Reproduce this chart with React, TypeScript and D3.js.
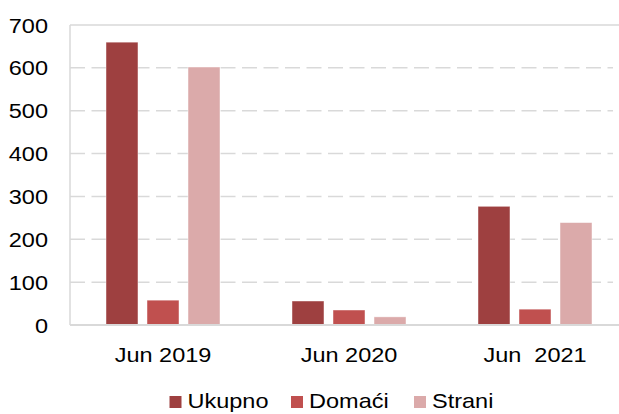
import { useEffect, useRef } from 'react';
import * as d3 from 'd3';

const categories = ['Jun 2019', 'Jun 2020', 'Jun  2021'];
const seriesNames = ['Ukupno', 'Domaći', 'Strani'];
const ukupno = [660, 56, 277];
const domaci = [58, 35, 37];
const strani = [602, 19, 239];
const yTicks = [0, 100, 200, 300, 400, 500, 600, 700];

const colors = ['#9E4040', '#C0504F', '#DBAAAA'];
const FONT = '"Liberation Sans", Arial, sans-serif';
const STRETCH = 1.12;

export default function App() {
  const svgRef = useRef<SVGSVGElement>(null);

  useEffect(() => {
    if (!svgRef.current) return;
    const width = 619;
    const height = 414;
    const margin = { top: 25, left: 70, bottom: 89 };
    const plotRight = 628;

    const svg = d3.select(svgRef.current);
    svg.selectAll('*').remove();

    const y = d3.scaleLinear().domain([0, 700]).range([height - margin.bottom, margin.top]);
    const x0 = d3.scaleBand().domain(categories).range([margin.left, plotRight]);
    const half = 57;
    const x1 = d3.scaleBand()
      .domain(seriesNames)
      .range([x0.bandwidth() / 2 - half, x0.bandwidth() / 2 + half])
      .paddingInner(0.22);

    const values = [ukupno, domaci, strani];

    // Gridlines (dashed), top one solid
    svg.append('g')
      .selectAll('line')
      .data(yTicks.filter((t) => t > 0 && t < 700))
      .join('line')
      .attr('x1', margin.left)
      .attr('x2', 613)
      .attr('y1', (d) => y(d))
      .attr('y2', (d) => y(d))
      .attr('stroke', '#D9D9D9')
      .attr('stroke-width', 1.5)
      .attr('stroke-dasharray', '15,6.5');

    svg.append('line')
      .attr('x1', margin.left).attr('x2', width)
      .attr('y1', y(700)).attr('y2', y(700))
      .attr('stroke', '#D9D9D9').attr('stroke-width', 1.5);

    svg.append('line')
      .attr('x1', margin.left).attr('x2', margin.left)
      .attr('y1', y(700)).attr('y2', y(0))
      .attr('stroke', '#D9D9D9').attr('stroke-width', 1.5);

    // Bars
    seriesNames.forEach((s, si) => {
      svg.append('g')
        .selectAll('rect')
        .data(categories)
        .join('rect')
        .attr('x', (c) => x0(c)! + x1(s)!)
        .attr('width', x1.bandwidth())
        .attr('y', (_c, i) => y(values[si][i]))
        .attr('height', (_c, i) => y(0) - y(values[si][i]))
        .attr('fill', colors[si])
        .attr('stroke', '#ffffff')
        .attr('stroke-opacity', 0.6)
        .attr('stroke-width', 0.75);
    });

    // Baseline
    svg.append('line')
      .attr('x1', margin.left).attr('x2', width)
      .attr('y1', y(0)).attr('y2', y(0))
      .attr('stroke', '#D9D9D9').attr('stroke-width', 2);

    // Y labels
    svg.append('g')
      .selectAll('text')
      .data(yTicks)
      .join('text')
      .attr('transform', (d) => `translate(48,${y(d) + 7.5}) scale(${STRETCH},1)`)
      .attr('text-anchor', 'end')
      .attr('font-family', FONT)
      .attr('font-size', 21)
      .attr('fill', '#000')
      .text((d) => d);

    // X labels
    svg.append('g')
      .selectAll('text')
      .data(categories)
      .join('text')
      .attr('transform', (c) => `translate(${x0(c)! + x0.bandwidth() / 2},361.5) scale(${STRETCH},1)`)
      .attr('text-anchor', 'middle')
      .attr('font-family', FONT)
      .attr('font-size', 21)
      .attr('fill', '#000')
      .style('white-space', 'pre')
      .text((c) => c);

    // Legend
    const legendX = [169.5, 291, 414];
    const lg = svg.append('g')
      .selectAll('g')
      .data(seriesNames)
      .join('g')
      .attr('transform', (_d, i) => `translate(${legendX[i]},0)`);
    lg.append('rect')
      .attr('x', 0).attr('y', 396)
      .attr('width', 12).attr('height', 12)
      .attr('fill', (_d, i) => colors[i]);
    lg.append('text')
      .attr('transform', `translate(18,408) scale(${STRETCH},1)`)
      .attr('font-family', FONT)
      .attr('font-size', 21)
      .attr('fill', '#000')
      .text((d) => d);
  }, []);

  return (
    <div style={{ position: 'fixed', left: 0, top: 0, background: '#fff' }}>
      <svg ref={svgRef} width={619} height={414} style={{ display: 'block' }} />
    </div>
  );
}
